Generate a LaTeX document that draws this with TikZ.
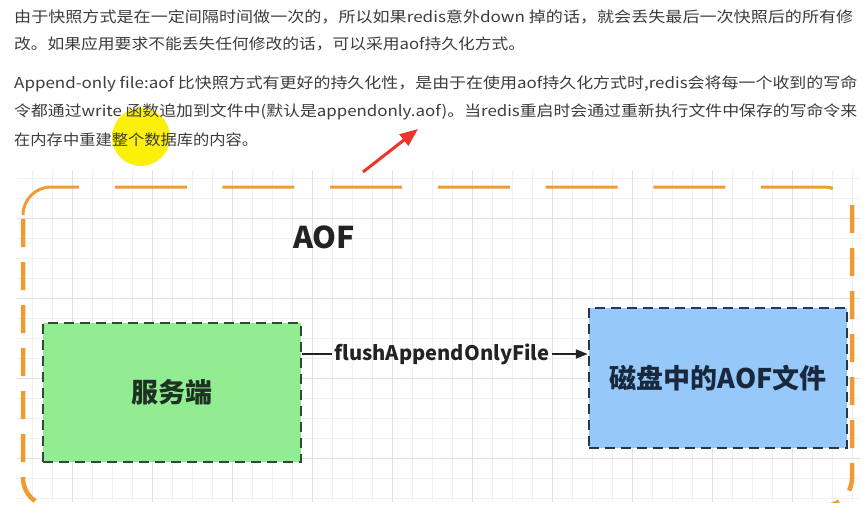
\documentclass[tikz,border=0pt]{standalone}
\usepackage{fontspec}
\setmainfont{Noto Sans CJK SC}
\usepackage{graphicx}
\usetikzlibrary{arrows.meta}
\definecolor{textgray}{RGB}{60,60,60}
\definecolor{gridminor}{RGB}{240,240,240}
\definecolor{gridmajor}{RGB}{224,224,224}
\definecolor{aoforange}{RGB}{240,155,50}
\definecolor{srvfill}{RGB}{146,236,146}
\definecolor{srvline}{RGB}{45,75,55}
\definecolor{srvtext}{RGB}{30,50,35}
\definecolor{diskfill}{RGB}{150,200,250}
\definecolor{diskline}{RGB}{40,55,75}
\definecolor{disktext}{RGB}{25,40,60}
\definecolor{hlyellow}{RGB}{252,240,10}
\definecolor{markred}{RGB}{240,50,45}
\definecolor{darkink}{RGB}{35,35,35}
\tikzset{
  txtline/.style={anchor=west, inner sep=0pt, text=textgray, font=\fontsize{15pt}{18pt}\selectfont},
  gminor/.style={draw=gridminor, line width=0.8pt},
  gmajor/.style={draw=gridmajor, line width=1pt},
  orangetop/.style={draw=aoforange, line width=3pt, rounded corners=28pt, dash pattern=on 72pt off 35.7pt},
  orangeside/.style={draw=aoforange, line width=4.5pt, rounded corners=28pt, dash pattern=on 28pt off 15pt},
  boxstyle/.style={line width=2.5pt, dash pattern=on 10pt off 6pt, inner sep=0pt, font=\fontsize{27pt}{30pt}\selectfont\bfseries},
  srvbox/.style={boxstyle, draw=srvline, fill=srvfill, text=srvtext, minimum width=258pt, minimum height=139pt},
  diskbox/.style={boxstyle, draw=diskline, fill=diskfill, text=disktext, minimum width=258pt, minimum height=140pt},
  flowline/.style={draw=darkink, line width=2pt},
  flowarrow/.style={flowline, -{Triangle[length=12pt,width=9pt]}},
  redarrow/.style={draw=markred, line width=3pt, -{Triangle[length=18pt,width=14pt]}},
}
\begin{document}
\begin{tikzpicture}[x=1pt,y=-1pt]
\useasboundingbox (0,0) rectangle (866,509);
% highlight
\fill[hlyellow] (141,137) circle[radius=29pt];
% text lines
\node[txtline] (t1) at (14,17) {\resizebox{839pt}{\height}{由于快照方式是在一定间隔时间做一次的，所以如果redis意外down 掉的话，就会丢失最后一次快照后的所有修}};
\node[txtline] (t2) at (14,44) {\resizebox{511pt}{\height}{改。如果应用要求不能丢失任何修改的话，可以采用aof持久化方式。}};
\node[txtline] (t3) at (14,84) {\resizebox{843pt}{\height}{Append-only file:aof 比快照方式有更好的持久化性，是由于在使用aof持久化方式时,redis会将每一个收到的写命}};
\node[txtline] (t4) at (14,112) {\resizebox{843pt}{\height}{令都通过write 函数追加到文件中(默认是appendonly.aof)。当redis重启时会通过重新执行文件中保存的写命令来}};
\node[txtline] (t5) at (14,140) {\resizebox{244pt}{\height}{在内存中重建整个数据库的内容。}};
% diagram
\begin{scope}
\clip (17,170) rectangle (860,502);
\foreach \x in {32,52,...,852} \draw[gminor] (\x,170) -- (\x,502);
\foreach \y in {178,198,...,498} \draw[gminor] (17,\y) -- (860,\y);
\foreach \x in {72,152,...,832} \draw[gmajor] (\x,170) -- (\x,502);
\foreach \y in {218,298,378,458} \draw[gmajor] (17,\y) -- (860,\y);
\draw[orangetop] (23,215) -- (23,187) -- (852,187) -- (852,215);
\draw[orangeside] (23,219) -- (23,506) -- (70,506);
\draw[orangeside] (852,205) -- (852,506) -- (800,506);
\end{scope}
\node[inner sep=0pt, text=darkink, font=\fontsize{30pt}{32pt}\selectfont\bfseries] (aof) at (324,237) {\resizebox{62pt}{\height}{AOF}};
\node[srvbox] (srv) at (172,392.5) {服务端};
\node[diskbox] (disk) at (718,378) {磁盘中的AOF文件};
\node[inner xsep=2pt, inner ysep=0pt, text=darkink, font=\fontsize{20pt}{22pt}\selectfont\bfseries] (lbl) at (442,354) {\resizebox{215pt}{\height}{flushAppendOnlyFile}};
\draw[flowline] (srv.east |- lbl) -- (lbl.west);
\draw[flowarrow] (lbl.east) -- (disk.west |- lbl);
% red marker arrow
\coordinate (r1) at (363,172);
\coordinate (r2) at (418,129);
\draw[redarrow] (r1) -- (r2);
\end{tikzpicture}
\end{document}
